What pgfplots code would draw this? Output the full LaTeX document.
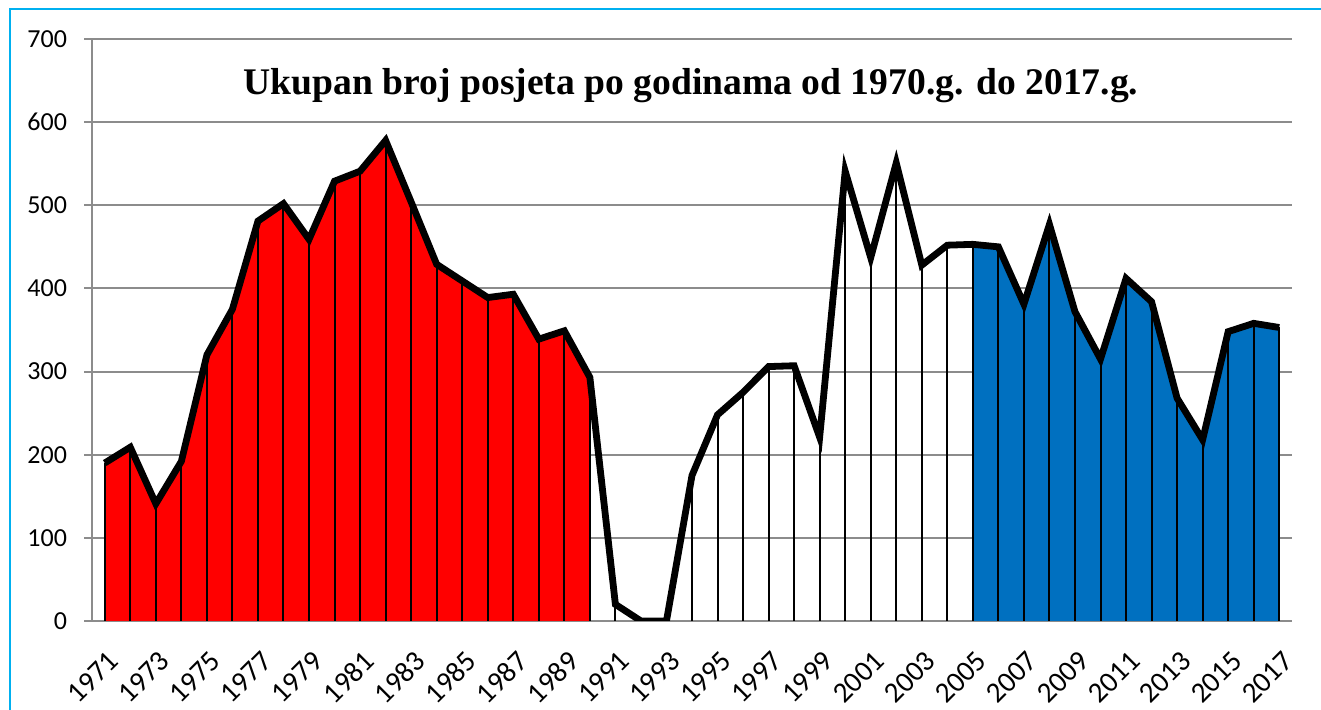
\documentclass[border=0pt]{standalone}
\usepackage{pgfplots}
\pgfplotsset{compat=1.18}
\usepackage{pgfplotstable}
\usepackage{fontspec}
\setmainfont{Carlito}
\newfontfamily\titlefont{Liberation Serif}
\definecolor{gridgray}{RGB}{140,140,140}
\definecolor{myred}{RGB}{255,0,0}
\definecolor{myblue}{RGB}{0,112,192}
\definecolor{framecyan}{RGB}{0,176,240}
\pgfplotstableread{
year visits
1971 190
1972 209
1973 141
1974 192
1975 320
1976 375
1977 481
1978 502
1979 459
1980 529
1981 541
1982 578
1983 504
1984 429
1985 409
1986 389
1987 393
1988 339
1989 349
1990 293
1991 20
1992 0
1993 0
1994 175
1995 248
1996 275
1997 306
1998 307
1999 221
2000 541
2001 437
2002 551
2003 428
2004 452
2005 453
2006 450
2007 381
2008 477
2009 372
2010 315
2011 412
2012 384
2013 268
2014 218
2015 348
2016 358
2017 353
}\visits
\begin{document}
\begin{tikzpicture}
\path[use as bounding box] (0,0) rectangle (660.5pt,355pt);
\draw[framecyan, line width=1.2pt] (5pt,0) -- (5pt,350.5pt) -- (660.5pt,350.5pt);
\begin{axis}[
  at={(46pt,44.5pt)}, anchor=south west,
  scale only axis, width=600pt, height=291pt,
  xmin=1970.5, xmax=2017.5, ymin=0, ymax=700,
  ytick={0,100,...,700},
  xtick={1971,1973,...,2017},
  xticklabel style={rotate=45, anchor=north east, font=\fontsize{14.5}{16}\selectfont, xshift=-3pt, yshift=-4.5pt},
  yticklabel style={font=\fontsize{13}{15}\selectfont, xshift=-5pt},
  /pgf/number format/assume math mode=true,
  /pgf/number format/1000 sep={},
  axis x line*=bottom, axis y line*=left,
  axis line style={gridgray, line width=1pt, -},
  ymajorgrids, grid style={gridgray, line width=1pt},
  major y tick style={gridgray, line width=1pt},
  major x tick style={draw=none},
  tick align=outside, major tick length=4pt,
]
\addplot[fill=myred, draw=none, restrict x to domain=1971:1990] table[x=year,y=visits]{\visits} \closedcycle;
\addplot[fill=myblue, draw=none, restrict x to domain=2005:2017] table[x=year,y=visits]{\visits} \closedcycle;
\addplot[ycomb, black, line width=1pt, mark=none] table[x=year,y=visits]{\visits};
\addplot[black, line width=3.4pt, mark=none] table[x=year,y=visits]{\visits};
\end{axis}
\node[font=\titlefont\bfseries\fontsize{18.8}{22}\selectfont] at (345.5pt,312pt) {Ukupan broj posjeta po godinama od 1970.g. do 2017.g.};
\end{tikzpicture}
\end{document}
